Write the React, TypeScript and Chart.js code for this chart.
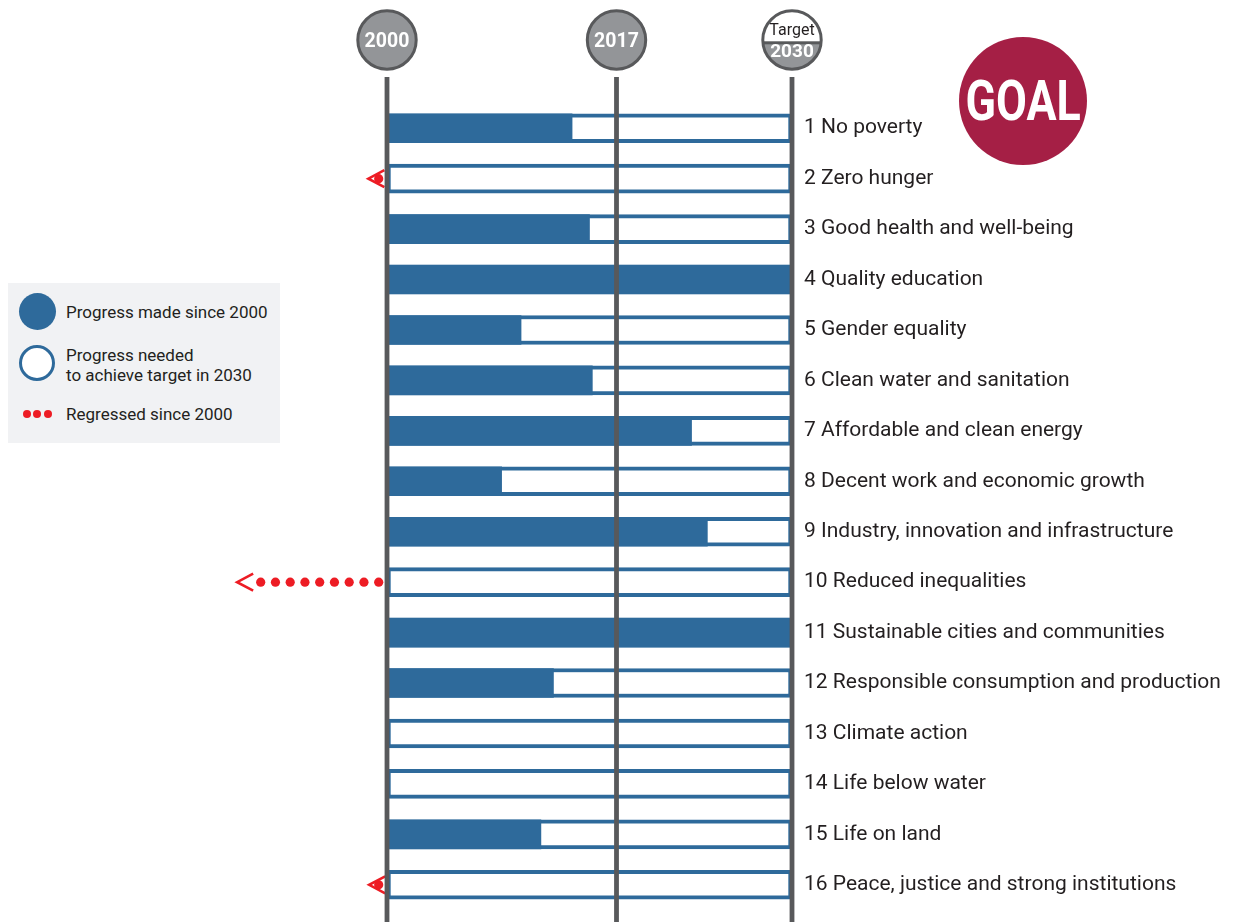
import React, { useEffect, useRef } from "react";
import { Chart, registerables } from "chart.js";

Chart.register(...registerables);

const goals = [
  "1 No poverty",
  "2 Zero hunger",
  "3 Good health and well-being",
  "4 Quality education",
  "5 Gender equality",
  "6 Clean water and sanitation",
  "7 Affordable and clean energy",
  "8 Decent work and economic growth",
  "9 Industry, innovation and infrastructure",
  "10 Reduced inequalities",
  "11 Sustainable cities and communities",
  "12 Responsible consumption and production",
  "13 Climate action",
  "14 Life below water",
  "15 Life on land",
  "16 Peace, justice and strong institutions",
];

// share of the 2000 -> 2030 distance already covered
const progressMade = [0.457, 0, 0.5, 1, 0.331, 0.507, 0.752, 0.283, 0.791, 0, 1, 0.411, 0, 0, 0.38, 0];
// full distance to the 2030 target
const progressNeeded = [1, 1, 1, 1, 1, 1, 1, 1, 1, 1, 1, 1, 1, 1, 1, 1];
// regression since 2000 (negative share)
const regressed = [0, -0.046, 0, 0, 0, 0, 0, 0, 0, -0.37, 0, 0, 0, 0, 0, -0.044];

const years = [2000, 2017, 2030];
const yearStart = 2000;
const yearTarget = 2030;

const BLUE = "#2e6a9b";
const GRAY_LINE = "#58595b";
const GRAY_FILL = "#939598";
const RED = "#ed1c24";
const TEXT = "#231f20";

const overlayPlugin = {
  id: "overlay",
  afterDatasetsDraw(chart: any) {
    const ctx = chart.ctx as CanvasRenderingContext2D;
    const xs = chart.scales.x;
    const ys = chart.scales.y;
    const x0 = xs.getPixelForValue(0);
    ctx.save();
    // regression dots + chevrons
    regressed.forEach((v, i) => {
      if (v >= 0) return;
      const yc = ys.getPixelForValue(i);
      const xt = xs.getPixelForValue(v);
      ctx.fillStyle = RED;
      for (let px = x0 - 8.3; px > xt + 9; px -= 14.75) {
        ctx.beginPath();
        ctx.arc(px, yc, 4.6, 0, Math.PI * 2);
        ctx.fill();
      }
      ctx.strokeStyle = RED;
      ctx.lineWidth = 2.6;
      ctx.lineJoin = "miter";
      ctx.beginPath();
      ctx.moveTo(xt + 16, yc - 8.5);
      ctx.lineTo(xt, yc);
      ctx.lineTo(xt + 16, yc + 8.5);
      ctx.stroke();
    });
    // year lines
    const H = chart.height;
    years.forEach((yr) => {
      const px = xs.getPixelForValue((yr - yearStart) / (yearTarget - yearStart));
      ctx.fillStyle = GRAY_LINE;
      ctx.fillRect(px - 2.4, 77, 4.8, H - 77);
    });
    // year circles
    const cy = 40;
    const r = 29.2;
    years.forEach((yr) => {
      const px = xs.getPixelForValue((yr - yearStart) / (yearTarget - yearStart));
      ctx.beginPath();
      ctx.arc(px, cy, r, 0, Math.PI * 2);
      ctx.fillStyle = GRAY_FILL;
      ctx.fill();
      if (yr === yearTarget) {
        ctx.save();
        ctx.beginPath();
        ctx.arc(px, cy, r, 0, Math.PI * 2);
        ctx.clip();
        ctx.fillStyle = "#ffffff";
        ctx.fillRect(px - r, cy - r, 2 * r, r + 2.7);
        ctx.fillStyle = GRAY_LINE;
        ctx.fillRect(px - r, cy + 1.3, 2 * r, 3);
        ctx.restore();
        ctx.fillStyle = TEXT;
        ctx.font = "16px Roboto";
        ctx.textAlign = "center";
        ctx.textBaseline = "middle";
        ctx.fillText("Target", px, cy - 9);
        ctx.fillStyle = "#ffffff";
        ctx.font = "bold 19px Roboto";
        ctx.fillText(String(yr), px, cy + 12.5);
      } else {
        ctx.fillStyle = "#ffffff";
        ctx.font = "bold 19.5px Roboto";
        ctx.textAlign = "center";
        ctx.textBaseline = "middle";
        ctx.fillText(String(yr), px, cy + 2);
      }
      ctx.beginPath();
      ctx.arc(px, cy, r, 0, Math.PI * 2);
      ctx.strokeStyle = GRAY_LINE;
      ctx.lineWidth = 3;
      ctx.stroke();
    });
    ctx.restore();
  },
};

export default function App() {
  const canvasRef = useRef<HTMLCanvasElement | null>(null);

  useEffect(() => {
    if (!canvasRef.current) return;
    Chart.defaults.font.family = "Roboto";
    const chart = new Chart(canvasRef.current, {
      type: "bar",
      data: {
        labels: goals,
        datasets: [
          {
            label: "Progress made since 2000",
            data: progressMade,
            backgroundColor: BLUE,
            borderWidth: 0,
            barThickness: 29,
            grouped: false,
            order: 0,
          } as any,
          {
            label: "Progress needed to achieve target in 2030",
            data: progressNeeded,
            backgroundColor: "#ffffff",
            borderColor: BLUE,
            borderWidth: 4,
            borderSkipped: false,
            barThickness: 29,
            grouped: false,
            order: 1,
          } as any,
        ],
      },
      options: {
        responsive: false,
        animation: false,
        indexAxis: "y",
        layout: { padding: { left: 387, top: 103, bottom: 12, right: 0 } },
        plugins: {
          legend: { display: false },
          tooltip: { enabled: false },
        },
        scales: {
          x: { display: false, min: 0, max: 1 },
          y: {
            position: "right",
            grid: { display: false, drawTicks: false },
            border: { display: false },
            ticks: {
              color: TEXT,
              font: { family: "Roboto", size: 21 },
              padding: 12,
            },
            afterFit(scale: any) {
              scale.width = 441;
              scale.paddingTop = 0;
              scale.paddingBottom = 0;
            },
          },
        },
      } as any,
      plugins: [overlayPlugin],
    });
    return () => chart.destroy();
  }, []);

  const legendText: React.CSSProperties = {
    position: "absolute",
    left: 66,
    fontFamily: "Roboto",
    fontSize: 17,
    color: TEXT,
    lineHeight: "20px",
    whiteSpace: "nowrap",
  };

  return (
    <div style={{ position: "absolute", left: 0, top: 0, width: 1233, height: 922, background: "#ffffff", overflow: "hidden" }}>
      <canvas ref={canvasRef} width={1233} height={922} style={{ display: "block", position: "absolute", left: 0, top: 0 }} />
      <div style={{ position: "absolute", left: 8, top: 283, width: 272, height: 160, background: "#f1f2f4" }} />
      <div style={{ position: "absolute", left: 18.5, top: 292.5, width: 37, height: 37, borderRadius: "50%", background: BLUE }} />
      <div style={{ position: "absolute", left: 19, top: 344.7, width: 36, height: 36, boxSizing: "border-box", borderRadius: "50%", border: `3.5px solid ${BLUE}`, background: "#ffffff" }} />
      {[26.7, 37, 47.7].map((x) => (
        <div key={x} style={{ position: "absolute", left: x - 4, top: 410.3, width: 8, height: 8, borderRadius: "50%", background: RED }} />
      ))}
      <div style={{ ...legendText, top: 301.5 }}>Progress made since 2000</div>
      <div style={{ ...legendText, top: 344.5 }}>
        Progress needed
        <br />
        to achieve target in 2030
      </div>
      <div style={{ ...legendText, top: 404 }}>Regressed since 2000</div>
      <div
        style={{
          position: "absolute",
          left: 959,
          top: 36.5,
          width: 128,
          height: 128,
          borderRadius: "50%",
          background: "#a51f45",
          display: "flex",
          alignItems: "center",
          justifyContent: "center",
        }}
      >
        <span
          style={{
            fontFamily: "Roboto",
            fontWeight: 700,
            fontSize: 56,
            color: "#ffffff",
            transform: "scaleX(0.8)",
            lineHeight: "56px",
            display: "inline-block",
          }}
        >
          GOAL
        </span>
      </div>
    </div>
  );
}
